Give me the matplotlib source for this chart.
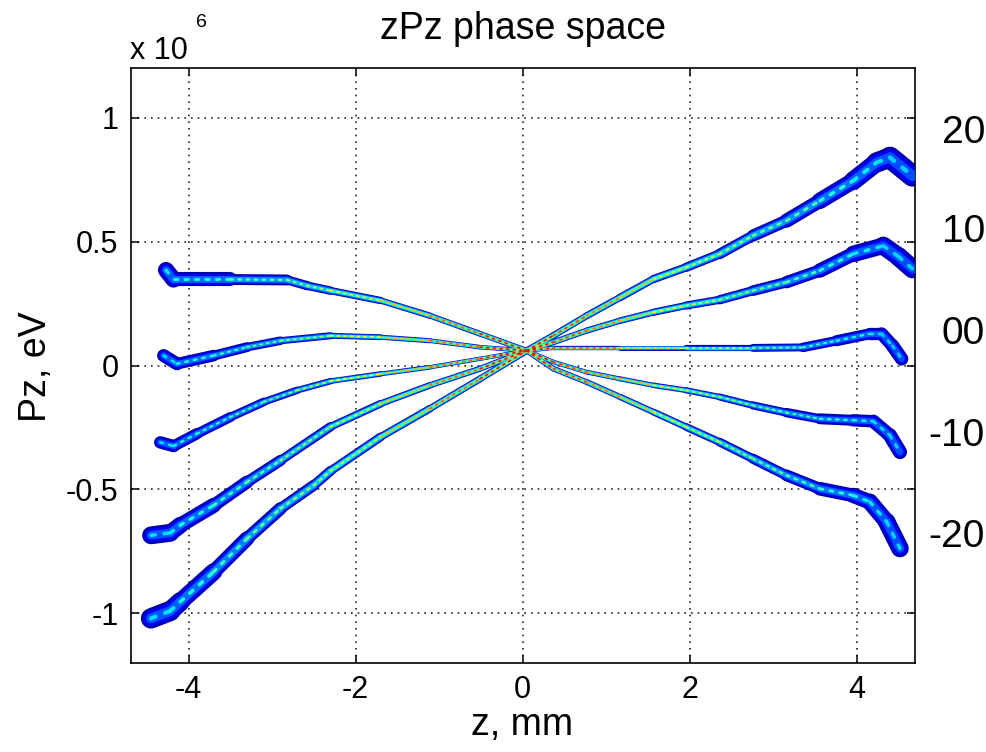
import numpy as np
import matplotlib
matplotlib.use('Agg')
import matplotlib.pyplot as plt
from matplotlib.collections import LineCollection

plt.rcParams['font.family'] = ['Liberation Sans', 'DejaVu Sans']
plt.rcParams['axes.unicode_minus'] = False

# bunch centre lines: z in mm, Pz in units of 1e6 eV
z_a = [-4.27, -4.18, -3.50, -2.82, -2.58, -2.30, -1.70, -1.11, -0.51, 0.05, 0.37, 0.77,
       1.17, 1.57, 1.96, 2.36, 2.76, 3.16, 3.56, 3.96, 4.16, 4.36, 4.52]
pz_a = [0.385, 0.347, 0.347, 0.345, 0.322, 0.302, 0.262, 0.201, 0.128, 0.06, -0.013, -0.067,
        -0.127, -0.188, -0.248, -0.309, -0.376, -0.443, -0.497, -0.524, -0.55, -0.63, -0.738]

z_b = [-4.30, -4.14, -3.70, -3.30, -2.90, -2.30, -1.70, -1.11, -0.51, 0.05, 0.37, 0.77,
       1.17, 1.57, 1.96, 2.36, 2.76, 3.16, 3.56, 3.96, 4.20, 4.40, 4.52]
pz_b = [0.04, 0.007, 0.04, 0.074, 0.10, 0.12, 0.114, 0.10, 0.074, 0.06, 0.014, -0.027,
        -0.054, -0.08, -0.10, -0.127, -0.161, -0.19, -0.215, -0.221, -0.225, -0.282, -0.349]

z_c = [-4.34, -4.18, -3.90, -3.50, -3.10, -2.70, -2.30, -1.70, -1.11, -0.51, 0.05, 0.37,
       1.17, 1.96, 2.76, 3.36, 3.76, 4.16, 4.30, 4.43, 4.54]
pz_c = [-0.31, -0.325, -0.275, -0.208, -0.147, -0.10, -0.063, -0.034, -0.007, 0.027, 0.06, 0.071,
        0.071, 0.071, 0.071, 0.073, 0.10, 0.128, 0.128, 0.08, 0.027]

z_d = [-4.45, -4.22, -4.10, -3.70, -3.30, -2.90, -2.30, -1.70, -1.11, -0.51, 0.05, 0.37, 0.77,
       1.17, 1.57, 1.96, 2.36, 2.76, 3.16, 3.56, 3.96, 4.32, 4.50, 4.67]
pz_d = [-0.685, -0.675, -0.644, -0.564, -0.47, -0.383, -0.247, -0.154, -0.08, -0.013, 0.06, 0.094, 0.141,
        0.181, 0.215, 0.242, 0.265, 0.302, 0.336, 0.383, 0.45, 0.483, 0.44, 0.39]

z_e = [-4.45, -4.22, -4.10, -3.70, -3.30, -2.90, -2.50, -2.30, -1.70, -1.11, -0.51, 0.05, 0.37,
       0.77, 1.17, 1.57, 1.96, 2.36, 2.76, 3.16, 3.56, 3.96, 4.24, 4.40, 4.67]
pz_e = [-1.02, -0.99, -0.953, -0.832, -0.698, -0.577, -0.483, -0.425, -0.288, -0.174, -0.054, 0.06, 0.121,
        0.201, 0.275, 0.349, 0.396, 0.45, 0.524, 0.584, 0.664, 0.745, 0.819, 0.839, 0.765]

y_ticks = [-1, -0.5, 0, 0.5, 1]
y_tick_labels = ['-1', '-0.5', '0', '0.5', '1']
x_ticks = [-4, -2, 0, 2, 4]
side_labels = ['20', '10', '00', '-10', '-20']

bands = [(z_a, pz_a, 1.0), (z_b, pz_b, 0.8), (z_c, pz_c, 0.75),
         (z_d, pz_d, 1.05), (z_e, pz_e, 1.2)]

fig = plt.figure(figsize=(9.87, 7.52), dpi=100)
ax = fig.add_axes([131 / 987, 89 / 752, 784 / 987, 595 / 752])
jet = plt.get_cmap('jet')


def band_segments(z, pz, scale):
    pts = np.column_stack([z, pz])
    segs = np.stack([pts[:-1], pts[1:]], axis=1)
    s = np.clip(np.abs(0.5 * (pts[:-1, 0] + pts[1:, 0])) / 4.5, 0, 1)
    w = scale * (4.0 + 9.0 * s ** 2.4)
    return segs, s, w


# draw layer by layer so the bright cores stay on top where bands cross
for layer in range(4):
    for z, pz, scale in bands:
        segs, s, w = band_segments(z, pz, scale)
        c = (1 - s) ** 1.2
        if layer == 0:
            lw, col, ls = w, jet(0.04 + 0 * s), 'solid'
        elif layer == 1:
            lw, col, ls = 0.75 * w, jet(0.1 + 0.22 * c), 'solid'
        elif layer == 2:
            lw, col, ls = np.maximum(0.48 * w, 1.6), jet(0.2 + 0.32 * c), 'solid'
        else:
            lw, col, ls = np.maximum(0.2 * w, 1.3), jet(0.33 + 0.6 * c), (0, (1.2, 2.5))
        lc = LineCollection(segs, linewidths=lw, colors=col, linestyles=ls,
                            capstyle='round', joinstyle='round', zorder=2 + layer)
        ax.add_collection(lc)

ax.set_xlim(-4.69, 4.70)
ax.set_ylim(-1.2, 1.2)
ax.set_xticks(x_ticks)
ax.set_xticklabels([str(t) for t in x_ticks])
ax.set_yticks(y_ticks)
ax.set_yticklabels(y_tick_labels)
ax.grid(True, color='0.15', linestyle=(0, (1, 3)), linewidth=1.2)
ax.set_axisbelow(True)
ax.tick_params(direction='in', length=6, width=1.1, top=True, right=True,
               labelsize=22, pad=9)
for sp in ax.spines.values():
    sp.set_linewidth(1.2)

fig.text(523 / 987, 1 - 29 / 752, 'zPz phase space', ha='center', va='center', fontsize=27)
fig.text(522 / 987, 1 - 725 / 752, 'z, mm', ha='center', va='center', fontsize=27)
fig.text(36 / 987, 1 - 367 / 752, 'Pz, eV', ha='center', va='center', fontsize=27, rotation=90)
fig.text(130 / 987, 1 - 59 / 752, 'x 10', ha='left', va='baseline', fontsize=22)
fig.text(196 / 987, 1 - 27 / 752, '6', ha='left', va='baseline', fontsize=14)

side_y = [133, 232, 334, 436, 537]
for lab, yp in zip(side_labels, side_y):
    fig.text(985 / 987, 1 - yp / 752, lab, ha='right', va='center', fontsize=28)

fig.savefig('out.png', dpi=100)
